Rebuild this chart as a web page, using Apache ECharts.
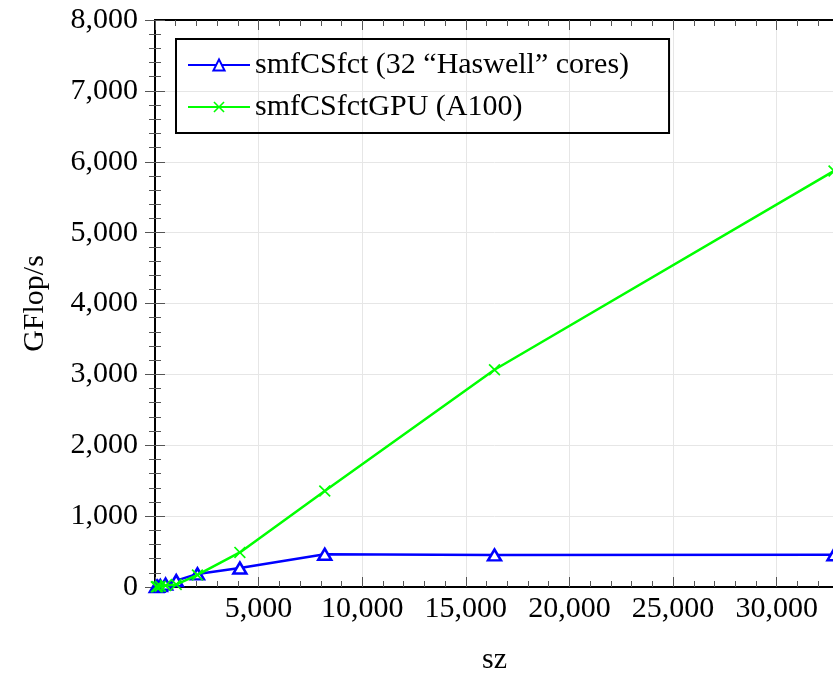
<!DOCTYPE html>
<html>
<head>
<meta charset="utf-8">
<script src="https://cdn.jsdelivr.net/npm/echarts@6/dist/echarts.min.js"></script>
<style>html,body{margin:0;padding:0;background:#fff}#c{width:833px;height:673px}</style>
</head>
<body>
<div id="c"></div>
<script>
const sizes = [64, 128, 256, 512, 1024, 2048, 4096, 8192, 16384, 32768];
const cpuGflops = [5, 10, 20, 40, 90, 185, 268, 462, 452, 455];
const gpuGflops = [2, 5, 10, 20, 35, 170, 488, 1355, 3065, 5870];
const seriesNames = ['smfCSfct (32 \u201cHaswell\u201d cores)', 'smfCSfctGPU (A100)'];
const xTickValues = [5000, 10000, 15000, 20000, 25000, 30000];
const yTickValues = [0, 1000, 2000, 3000, 4000, 5000, 6000, 7000, 8000];

const FONT = '"Liberation Serif", "DejaVu Serif", serif';
const fmt = v => v.toLocaleString('en-US');
const chart = echarts.init(document.getElementById('c'));
const tickStyle = {color: '#555', width: 1};
const xMax = 32768;

function pairs(ys){ return sizes.map((x,i)=>[x, ys[i]]); }

chart.setOption({
  animation: false,
  backgroundColor: '#fff',
  grid: {left: 155, top: 20, right: -1, bottom: 86, containLabel: false, outerBoundsMode: 'none'},
  legend: {
    orient: 'vertical', left: 176, top: 39,
    padding: [11, 40, 11, 11],
    borderColor: '#000', borderWidth: 2, borderRadius: 0,
    itemWidth: 62, itemHeight: 14, itemGap: 12,
    textStyle: {fontFamily: FONT, fontSize: 30, color: '#000', lineHeight: 30},
    data: seriesNames
  },
  xAxis: [
    {type: 'value', position: 'bottom', min: 0, max: xMax, interval: 5000,
     axisLine: {show: true, lineStyle: {color: '#000', width: 2}},
     axisTick: {show: true, inside: true, length: 10, lineStyle: tickStyle},
     axisLabel: {show: true, margin: 7, color: '#000', fontFamily: FONT, fontSize: 30, showMaxLabel: false,
       formatter: v => xTickValues.includes(v) ? fmt(v) : ''},
     splitLine: {show: true, lineStyle: {color: '#e6e6e6', width: 1}},
     name: 'sz', nameLocation: 'middle', nameGap: 58,
     nameTextStyle: {fontFamily: FONT, fontSize: 30, color: '#000'}},
    {type: 'value', position: 'bottom', min: 0, max: xMax, interval: 1000,
     axisLine: {show: false}, axisLabel: {show: false}, splitLine: {show: false},
     axisTick: {show: true, inside: true, length: 6, lineStyle: tickStyle}},
    {type: 'value', position: 'top', min: 0, max: xMax, interval: 5000,
     axisLine: {show: true, lineStyle: {color: '#000', width: 2}},
     axisLabel: {show: false}, splitLine: {show: false},
     axisTick: {show: true, inside: true, length: 10, lineStyle: tickStyle}},
    {type: 'value', position: 'top', min: 0, max: xMax, interval: 1000,
     axisLine: {show: false}, axisLabel: {show: false}, splitLine: {show: false},
     axisTick: {show: true, inside: true, length: 6, lineStyle: tickStyle}}
  ],
  yAxis: [
    {type: 'value', position: 'left', min: 0, max: 8000, interval: 1000,
     axisLine: {show: true, lineStyle: {color: '#000', width: 2}},
     axisTick: {show: true, inside: true, length: 10, lineStyle: tickStyle},
     minorTick: {show: true, splitNumber: 5, length: 6, lineStyle: tickStyle},
     axisLabel: {show: true, margin: 17, color: '#000', fontFamily: FONT, fontSize: 30,
       formatter: v => yTickValues.includes(v) ? fmt(v) : ''},
     splitLine: {show: true, lineStyle: {color: '#e6e6e6', width: 1}},
     name: 'GFlop/s', nameLocation: 'middle', nameGap: 105, nameRotate: 90,
     nameTextStyle: {fontFamily: FONT, fontSize: 30, color: '#000'}},
    {type: 'value', position: 'right', min: 0, max: 8000, interval: 1000,
     axisLine: {show: true, lineStyle: {color: '#000', width: 2}},
     axisTick: {show: true, inside: true, length: 10, lineStyle: tickStyle},
     minorTick: {show: true, splitNumber: 5, length: 6, lineStyle: tickStyle},
     axisLabel: {show: false}, splitLine: {show: false}}
  ],
  series: [
    {name: seriesNames[0], type: 'line', xAxisIndex: 0, yAxisIndex: 0,
     data: pairs(cpuGflops), symbol: 'triangle', symbolSize: [13, 11],
     lineStyle: {color: '#0000ff', width: 2.5},
     itemStyle: {color: '#ffffff', borderColor: '#0000ff', borderWidth: 2.5}, z: 3},
    {name: seriesNames[1], type: 'line', xAxisIndex: 0, yAxisIndex: 0,
     data: pairs(gpuGflops),
     symbol: 'path://M0,1L1,0L5,4L9,0L10,1L6,5L10,9L9,10L5,6L1,10L0,9L4,5Z', symbolSize: 12,
     lineStyle: {color: '#00ff00', width: 2.5},
     itemStyle: {color: '#00ff00', borderWidth: 0}, z: 4}
  ]
});
</script>
</body>
</html>
